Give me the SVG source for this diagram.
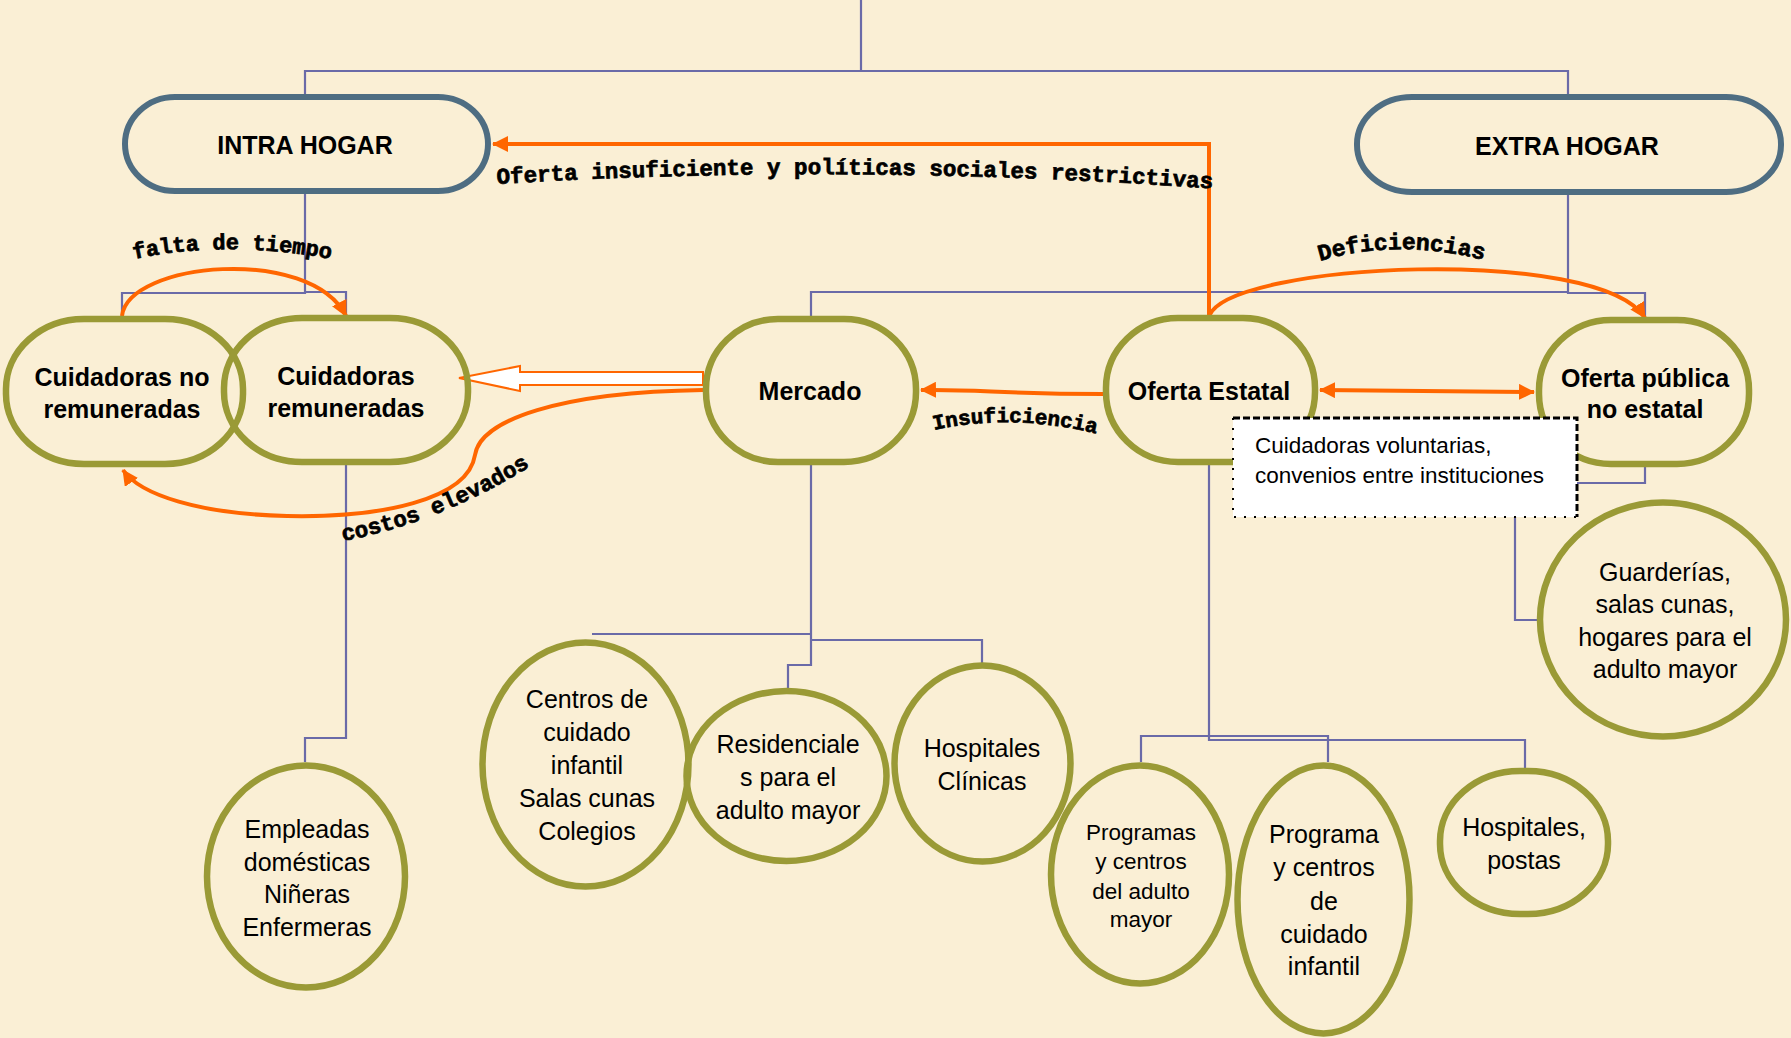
<svg xmlns="http://www.w3.org/2000/svg" width="1791" height="1038" viewBox="0 0 1791 1038">
<defs>
<style>
.bg{fill:#FAEFD5}
.conn{fill:none;stroke:#6A6AA8;stroke-width:2.2}
.top{fill:none;stroke:#4E6D82;stroke-width:6}
.olive{fill:none;stroke:#9A9A36;stroke-width:6.5}
.or{fill:none;stroke:#FF6600;stroke-width:4}
.b{font-family:"Liberation Sans",Arial,sans-serif;font-weight:bold;font-size:25px;fill:#000;text-anchor:middle}
.r{font-family:"Liberation Sans",Arial,sans-serif;font-size:25px;fill:#000;text-anchor:middle}
.rs{font-family:"Liberation Sans",Arial,sans-serif;font-size:22.5px;fill:#000;text-anchor:middle}
.lab{font-family:"Liberation Mono","Courier New",monospace;font-weight:bold;font-size:22px;fill:#000;stroke:#000;stroke-width:0.7}
</style>
<marker id="ah" markerUnits="userSpaceOnUse" markerWidth="16" markerHeight="16" viewBox="0 0 16 16" refX="15" refY="8" orient="auto-start-reverse">
<path d="M0,0 L16,8 L0,16 z" fill="#FF6600"/>
</marker>
<path id="p1" d="M497,184 Q860,162 1232,190"/>
<path id="p2" d="M134,259 Q235,238 345,262"/>
<path id="p3" d="M1320,261 Q1404,236 1498,264"/>
<path id="p4" d="M934,430 Q1015,412 1106,436"/>
<path id="p5" d="M343,541 Q445,522 540,460"/>
</defs>
<rect class="bg" x="0" y="0" width="1791" height="1038"/>

<g id="connectors">
<path class="conn" d="M305,94 V71 H861 V0"/>
<path class="conn" d="M861,71 H1568 V94"/>
<path class="conn" d="M305,193 V293 H122 V316"/>
<path class="conn" d="M305,292 H346 V316"/>
<path class="conn" d="M346,465 V738 H305 V762"/>
<path class="conn" d="M1568,195 V293 H1645 V317"/>
<path class="conn" d="M811,316 V292 H1568"/>
<path class="conn" d="M1209,292 V316"/>
<path class="conn" d="M811,465 V665 H788 V688"/>
<path class="conn" d="M811,634 H592"/>
<path class="conn" d="M811,640 H982 V663"/>
<path class="conn" d="M1209,465 V740 H1525 V768"/>
<path class="conn" d="M1141,762 V736 H1328 V762"/>
<path class="conn" d="M1645,467 V483 H1515 V620 H1537"/>

<path class="or" d="M1209,316 V144 H493" marker-end="url(#ah)"/>
<path class="or" d="M122,316 C128,262 310,245 346,316" marker-end="url(#ah)"/>
<path class="or" d="M1209,316 C1230,262 1600,245 1645,318" marker-end="url(#ah)"/>
<path class="or" d="M1320,390 L1534,392" marker-start="url(#ah)" marker-end="url(#ah)"/>
<path class="or" d="M1103,394 C1000,394 980,389 921,390" marker-end="url(#ah)"/>
<path class="or" d="M703,390 C560,392 480,420 475,455 C468,500 380,518 287,516 C200,514 140,495 123,470" marker-end="url(#ah)"/>
<polygon points="703,372 520,372 520,366 459,378 520,391 520,385 703,385" fill="#FFFFFF" stroke="#FF6600" stroke-width="2"/>

<text class="lab" style="font-size:22.5px"><textPath href="#p1">Oferta insuficiente y políticas sociales restrictivas</textPath></text>
<text class="lab"><textPath href="#p2">falta de tiempo</textPath></text>
<text class="lab" style="font-size:23px"><textPath href="#p3">Deficiencias</textPath></text>
<text class="lab" style="font-size:21px"><textPath href="#p4">Insuficiencia</textPath></text>
<text class="lab" style="font-size:22.5px"><textPath href="#p5">costos elevados</textPath></text>
</g>

<g id="intra-hogar">
<rect class="top" x="125" y="97" width="363" height="94" rx="50" ry="47"/>
<text class="b" x="305" y="154">INTRA HOGAR</text>
</g>
<g id="extra-hogar">
<rect class="top" x="1357" y="97" width="424" height="95" rx="55" ry="47"/>
<text class="b" x="1567" y="155">EXTRA HOGAR</text>
</g>
<g id="cuidadoras-no-remuneradas">
<rect class="olive" x="6" y="319" width="237" height="145" rx="78" ry="70"/>
<text class="b" x="122" y="386">Cuidadoras no</text>
<text class="b" x="122" y="418">remuneradas</text>
</g>
<g id="cuidadoras-remuneradas">
<rect class="olive" x="224" y="318" width="244" height="144" rx="78" ry="70"/>
<text class="b" x="346" y="385">Cuidadoras</text>
<text class="b" x="346" y="417">remuneradas</text>
</g>
<g id="mercado">
<rect class="olive" x="706" y="319" width="210" height="143" rx="72" ry="70"/>
<text class="b" x="810" y="400">Mercado</text>
</g>
<g id="oferta-estatal">
<rect class="olive" x="1106" y="318" width="209" height="144" rx="72" ry="70"/>
<text class="b" x="1209" y="400">Oferta Estatal</text>
</g>
<g id="oferta-publica">
<rect class="olive" x="1539" y="320" width="210" height="144" rx="72" ry="70"/>
<text class="b" x="1645" y="387">Oferta pública</text>
<text class="b" x="1645" y="418">no estatal</text>
</g>
<g id="cuidadoras-voluntarias">
<rect x="1233" y="418" width="344" height="99" fill="#FFFFFF"/>
<path d="M1233,418 H1577 V517" fill="none" stroke="#000" stroke-width="3" stroke-dasharray="7,3"/>
<path d="M1233,418 V517 H1577" fill="none" stroke="#000" stroke-width="2" stroke-dasharray="2,8"/>
<text font-family="Liberation Sans, Arial, sans-serif" font-size="22.5" x="1255" y="453">Cuidadoras voluntarias,</text>
<text font-family="Liberation Sans, Arial, sans-serif" font-size="22.5" x="1255" y="483">convenios entre instituciones</text>
</g>
<g id="empleadas">
<ellipse class="olive" cx="306" cy="876.5" rx="99" ry="111"/>
<text class="r" x="307" y="838">Empleadas</text>
<text class="r" x="307" y="871">domésticas</text>
<text class="r" x="307" y="903">Niñeras</text>
<text class="r" x="307" y="936">Enfermeras</text>
</g>
<g id="centros-cuidado-infantil">
<ellipse class="olive" cx="585.5" cy="764.5" rx="103" ry="122"/>
<text class="r" x="587" y="708">Centros de</text>
<text class="r" x="587" y="741">cuidado</text>
<text class="r" x="587" y="774">infantil</text>
<text class="r" x="587" y="807">Salas cunas</text>
<text class="r" x="587" y="840">Colegios</text>
</g>
<g id="residenciales">
<ellipse class="olive" cx="786.5" cy="776" rx="100" ry="85"/>
<text class="r" x="788" y="753">Residenciale</text>
<text class="r" x="788" y="786">s para el</text>
<text class="r" x="788" y="819">adulto mayor</text>
</g>
<g id="hospitales-clinicas">
<ellipse class="olive" cx="982.5" cy="763.5" rx="88" ry="98"/>
<text class="r" x="982" y="757">Hospitales</text>
<text class="r" x="982" y="790">Clínicas</text>
</g>
<g id="programas-adulto-mayor">
<ellipse class="olive" cx="1140" cy="874.5" rx="89" ry="109"/>
<text class="rs" x="1141" y="840">Programas</text>
<text class="rs" x="1141" y="869">y centros</text>
<text class="rs" x="1141" y="899">del adulto</text>
<text class="rs" x="1141" y="927">mayor</text>
</g>
<g id="programa-cuidado-infantil">
<ellipse class="olive" cx="1323.5" cy="899.5" rx="86" ry="134"/>
<text class="r" x="1324" y="843">Programa</text>
<text class="r" x="1324" y="876">y centros</text>
<text class="r" x="1324" y="910">de</text>
<text class="r" x="1324" y="943">cuidado</text>
<text class="r" x="1324" y="975">infantil</text>
</g>
<g id="hospitales-postas">
<rect class="olive" x="1440" y="771" width="168" height="143" rx="80" ry="70"/>
<text class="r" x="1524" y="836">Hospitales,</text>
<text class="r" x="1524" y="869">postas</text>
</g>
<g id="guarderias">
<ellipse class="olive" cx="1663" cy="619.5" rx="123" ry="117"/>
<text class="r" x="1665" y="581">Guarderías,</text>
<text class="r" x="1665" y="613">salas cunas,</text>
<text class="r" x="1665" y="646">hogares para el</text>
<text class="r" x="1665" y="678">adulto mayor</text>
</g>
</svg>
